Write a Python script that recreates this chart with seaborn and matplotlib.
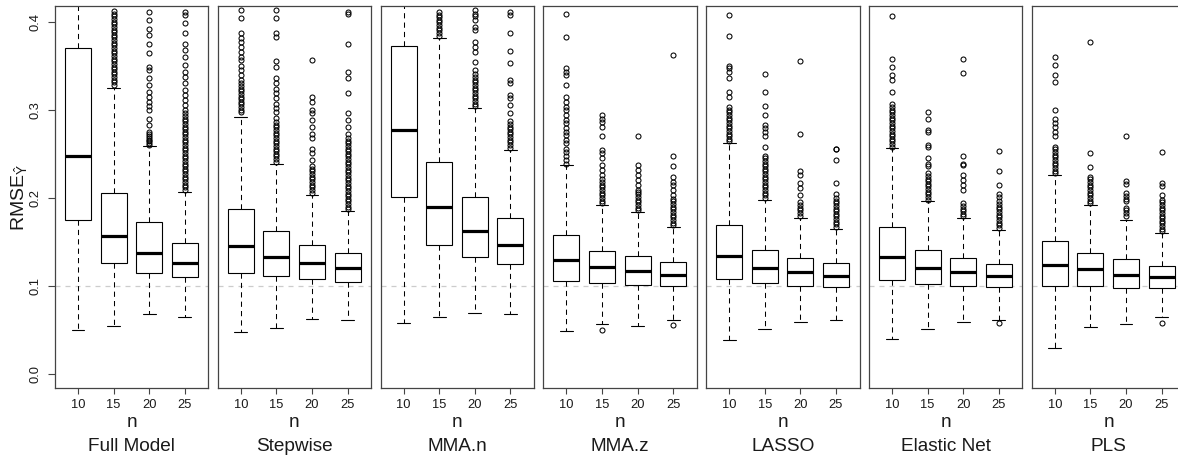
import numpy as np
import pandas as pd
import matplotlib
matplotlib.use("Agg")
import matplotlib.pyplot as plt
from matplotlib.transforms import blended_transform_factory
import seaborn as sns

# ---------------- data ----------------
methods = ["Full Model", "Stepwise", "MMA.n", "MMA.z", "LASSO", "Elastic Net", "PLS"]
n_levels = ["10", "15", "20", "25"]

# per method: values for n = 10, 15, 20, 25
whisker_low = [
    [0.050, 0.055, 0.068, 0.065],
    [0.048, 0.052, 0.0625, 0.061],
    [0.058, 0.065, 0.069, 0.068],
    [0.0495, 0.057, 0.055, 0.0615],
    [0.039, 0.0515, 0.059, 0.0615],
    [0.040, 0.0515, 0.0595, 0.0615],
    [0.030, 0.0535, 0.057, 0.0645],
]
q1 = [
    [0.175, 0.126, 0.1145, 0.110],
    [0.1145, 0.1115, 0.108, 0.1045],
    [0.2015, 0.1465, 0.133, 0.1245],
    [0.1055, 0.104, 0.101, 0.100],
    [0.1075, 0.103, 0.1005, 0.0995],
    [0.107, 0.1025, 0.100, 0.0985],
    [0.1005, 0.100, 0.098, 0.0975],
]
median = [
    [0.2475, 0.157, 0.137, 0.1265],
    [0.1455, 0.1335, 0.1265, 0.120],
    [0.277, 0.190, 0.162, 0.1465],
    [0.1295, 0.122, 0.117, 0.1125],
    [0.1345, 0.120, 0.1155, 0.112],
    [0.1335, 0.120, 0.1155, 0.1115],
    [0.1235, 0.119, 0.113, 0.110],
]
q3 = [
    [0.370, 0.206, 0.1725, 0.149],
    [0.187, 0.163, 0.147, 0.137],
    [0.372, 0.241, 0.201, 0.177],
    [0.1585, 0.1395, 0.1345, 0.1275],
    [0.1695, 0.1415, 0.132, 0.126],
    [0.167, 0.1405, 0.1315, 0.125],
    [0.151, 0.1372, 0.1305, 0.123],
]
whisker_high = [
    [0.55, 0.325, 0.2585, 0.207],
    [0.292, 0.238, 0.203, 0.185],
    [0.55, 0.3815, 0.302, 0.254],
    [0.237, 0.192, 0.184, 0.167],
    [0.262, 0.1975, 0.177, 0.165],
    [0.2565, 0.1965, 0.1775, 0.1635],
    [0.226, 0.192, 0.175, 0.1605],
]
outliers = [
    [  # Full Model
        [],
        [0.328, 0.331, 0.334, 0.337, 0.340, 0.343, 0.346, 0.349, 0.352, 0.355, 0.358, 0.361,
         0.364, 0.367, 0.370, 0.373, 0.376, 0.379, 0.382, 0.385, 0.388, 0.391, 0.394, 0.397,
         0.400, 0.403, 0.406, 0.409, 0.412],
        [0.260, 0.262, 0.264, 0.266, 0.268, 0.270, 0.272, 0.275, 0.283, 0.290, 0.300, 0.304,
         0.309, 0.315, 0.320, 0.328, 0.336, 0.345, 0.348, 0.364, 0.375, 0.385, 0.392, 0.402, 0.411],
        [0.209, 0.212, 0.215, 0.218, 0.221, 0.224, 0.227, 0.230, 0.233, 0.236, 0.239, 0.242,
         0.245, 0.248, 0.251, 0.254, 0.257, 0.260, 0.263, 0.266, 0.269, 0.272, 0.275, 0.278,
         0.281, 0.284, 0.287, 0.290, 0.293, 0.296, 0.300, 0.305, 0.311, 0.317, 0.322, 0.330,
         0.337, 0.343, 0.351, 0.360, 0.368, 0.375, 0.387, 0.398, 0.407, 0.411],
    ],
    [  # Stepwise
        [0.297, 0.300, 0.303, 0.306, 0.309, 0.312, 0.315, 0.318, 0.321, 0.324, 0.327, 0.330,
         0.334, 0.339, 0.345, 0.350, 0.356, 0.360, 0.366, 0.371, 0.377, 0.381, 0.387, 0.404, 0.413],
        [0.241, 0.244, 0.247, 0.250, 0.253, 0.256, 0.259, 0.262, 0.265, 0.268, 0.271, 0.274,
         0.277, 0.280, 0.283, 0.286, 0.291, 0.297, 0.302, 0.307, 0.313, 0.319, 0.324, 0.330,
         0.336, 0.349, 0.355, 0.383, 0.387, 0.404, 0.413],
        [0.206, 0.209, 0.212, 0.215, 0.218, 0.221, 0.224, 0.227, 0.230, 0.233, 0.236, 0.243,
         0.251, 0.256, 0.268, 0.273, 0.281, 0.288, 0.296, 0.300, 0.309, 0.315, 0.356],
        [0.187, 0.190, 0.193, 0.196, 0.199, 0.202, 0.205, 0.208, 0.211, 0.214, 0.217, 0.220,
         0.223, 0.226, 0.229, 0.232, 0.235, 0.238, 0.241, 0.244, 0.247, 0.250, 0.253, 0.256,
         0.259, 0.262, 0.265, 0.268, 0.273, 0.281, 0.288, 0.296, 0.319, 0.336, 0.343, 0.374,
         0.409, 0.411],
    ],
    [  # MMA.n
        [],
        [0.384, 0.387, 0.390, 0.393, 0.396, 0.399, 0.402, 0.405, 0.408, 0.411],
        [0.304, 0.307, 0.310, 0.313, 0.316, 0.319, 0.322, 0.325, 0.328, 0.331, 0.334, 0.337,
         0.340, 0.345, 0.354, 0.366, 0.371, 0.377, 0.390, 0.394, 0.402, 0.406, 0.409, 0.413],
        [0.257, 0.260, 0.263, 0.266, 0.269, 0.272, 0.275, 0.278, 0.281, 0.284, 0.287, 0.296,
         0.305, 0.313, 0.317, 0.330, 0.334, 0.353, 0.367, 0.387, 0.407, 0.411],
    ],
    [  # MMA.z
        [0.239, 0.243, 0.247, 0.252, 0.256, 0.262, 0.266, 0.271, 0.275, 0.279, 0.285, 0.288,
         0.294, 0.300, 0.303, 0.309, 0.315, 0.328, 0.339, 0.343, 0.347, 0.383, 0.409],
        [0.050, 0.194, 0.197, 0.200, 0.203, 0.206, 0.209, 0.212, 0.215, 0.218, 0.221, 0.226,
         0.232, 0.237, 0.245, 0.251, 0.254, 0.270, 0.281, 0.286, 0.290, 0.294],
        [0.186, 0.189, 0.192, 0.195, 0.198, 0.201, 0.204, 0.207, 0.209, 0.215, 0.220, 0.226,
         0.232, 0.237, 0.270],
        [0.0555, 0.169, 0.172, 0.175, 0.178, 0.181, 0.184, 0.187, 0.190, 0.193, 0.196, 0.199,
         0.203, 0.209, 0.215, 0.218, 0.224, 0.236, 0.248, 0.362],
    ],
    [  # LASSO
        [0.264, 0.267, 0.270, 0.273, 0.276, 0.279, 0.282, 0.285, 0.288, 0.291, 0.294, 0.297,
         0.300, 0.303, 0.315, 0.320, 0.336, 0.343, 0.347, 0.350, 0.384, 0.407],
        [0.200, 0.203, 0.206, 0.209, 0.212, 0.215, 0.218, 0.221, 0.224, 0.227, 0.230, 0.233,
         0.236, 0.239, 0.242, 0.245, 0.248, 0.258, 0.270, 0.275, 0.279, 0.283, 0.294, 0.304,
         0.320, 0.341],
        [0.180, 0.183, 0.186, 0.189, 0.192, 0.195, 0.203, 0.211, 0.217, 0.226, 0.230, 0.272, 0.355],
        [0.167, 0.170, 0.173, 0.176, 0.179, 0.182, 0.185, 0.188, 0.191, 0.194, 0.197, 0.200,
         0.205, 0.217, 0.243, 0.255, 0.256],
    ],
    [  # Elastic Net
        [0.258, 0.261, 0.264, 0.267, 0.270, 0.273, 0.276, 0.279, 0.282, 0.285, 0.288, 0.291,
         0.294, 0.297, 0.300, 0.303, 0.306, 0.320, 0.334, 0.339, 0.349, 0.358, 0.406],
        [0.198, 0.201, 0.204, 0.207, 0.210, 0.213, 0.216, 0.219, 0.222, 0.225, 0.228, 0.236,
         0.239, 0.245, 0.258, 0.260, 0.275, 0.277, 0.290, 0.298],
        [0.1795, 0.182, 0.185, 0.188, 0.191, 0.194, 0.209, 0.215, 0.220, 0.226, 0.237, 0.239,
         0.248, 0.342, 0.358],
        [0.058, 0.166, 0.169, 0.172, 0.175, 0.178, 0.181, 0.184, 0.187, 0.190, 0.193, 0.196,
         0.201, 0.205, 0.215, 0.230, 0.253],
    ],
    [  # PLS
        [0.228, 0.231, 0.234, 0.237, 0.240, 0.243, 0.246, 0.249, 0.252, 0.255, 0.258, 0.270,
         0.275, 0.281, 0.285, 0.290, 0.300, 0.332, 0.339, 0.351, 0.360],
        [0.194, 0.197, 0.200, 0.203, 0.206, 0.209, 0.212, 0.215, 0.218, 0.221, 0.224, 0.235,
         0.251, 0.377],
        [0.180, 0.183, 0.186, 0.189, 0.196, 0.199, 0.202, 0.206, 0.216, 0.2195, 0.270],
        [0.0585, 0.162, 0.165, 0.168, 0.171, 0.174, 0.177, 0.180, 0.183, 0.186, 0.189, 0.192,
         0.195, 0.198, 0.203, 0.2135, 0.217, 0.2525],
    ],
]
y_ticks = [0.0, 0.1, 0.2, 0.3, 0.4]
reference_level = 0.1

# ---------------- long table for seaborn ----------------
# Each box is represented by its summary values; the quartile values are
# repeated so that seaborn's own quartile/whisker computation reproduces them.
REP = 400
rows = []
for mi, m in enumerate(methods):
    for ni, n in enumerate(n_levels):
        vals = ([whisker_low[mi][ni]] + [q1[mi][ni]] * REP + [median[mi][ni]] * REP
                + [q3[mi][ni]] * REP + [whisker_high[mi][ni]] + list(outliers[mi][ni]))
        rows.extend((m, n, v) for v in vals)
df = pd.DataFrame(rows, columns=["method", "n", "rmse"])

# ---------------- style ----------------
sns.set_theme(style="white")
plt.rcParams["font.family"] = ["Liberation Sans", "DejaVu Sans"]
plt.rcParams["mathtext.fontset"] = "custom"
plt.rcParams["mathtext.rm"] = "Liberation Sans"
plt.rcParams["mathtext.it"] = "Liberation Sans:italic"
plt.rcParams["mathtext.bf"] = "Liberation Sans:bold"

TXT = "#1a1a1a"
FRAME = "#444444"
W, H = 1178, 459
fig = plt.figure(figsize=(W / 100, H / 100), dpi=100)
fig.patch.set_facecolor("white")

panel_left0, panel_step, panel_w = 55.0, 162.8, 153.4
ax_top_px, ax_bot_px = 5.7, 388.3

for i, m in enumerate(methods):
    left = (panel_left0 + i * panel_step) / W
    ax = fig.add_axes([left, 1 - ax_bot_px / H, panel_w / W, (ax_bot_px - ax_top_px) / H])
    sub = df[df["method"] == m]
    ax.axhline(reference_level, color="#cccccc", lw=0.9, ls=(0, (4, 4)), zorder=0)
    sns.boxplot(
        data=sub, x="n", y="rmse", order=n_levels, ax=ax,
        color="white", linecolor="black", saturation=1, width=0.73, linewidth=0.8, whis=1.5,
        boxprops=dict(facecolor="white", edgecolor="black", linewidth=0.8),
        medianprops=dict(color="black", linewidth=2.3, solid_capstyle="butt"),
        whiskerprops=dict(color="black", linewidth=0.75, linestyle=(0, (5, 4))),
        capprops=dict(color="black", linewidth=0.8),
        flierprops=dict(marker="o", markerfacecolor="none", markeredgecolor="black",
                        markersize=3.6, markeredgewidth=0.75, linestyle="none"),
    )
    ax.set_xlim(-0.646, 3.663)
    ax.set_ylim(-0.0159, 0.418)
    ax.set_facecolor("white")
    for sp in ax.spines.values():
        sp.set_visible(True)
        sp.set_color(FRAME)
        sp.set_linewidth(0.9)
    ax.set_xlabel("")
    ax.set_ylabel("")
    ax.tick_params(axis="x", which="both", bottom=True, direction="out", length=4.5,
                   width=0.8, color=FRAME, labelsize=9.3, labelcolor=TXT, pad=3)
    ax.set_yticks(y_ticks)
    if i == 0:
        ax.set_yticklabels([f"{t:.1f}" for t in y_ticks])
        ax.tick_params(axis="y", which="both", left=True, direction="out", length=5,
                       width=0.8, color=FRAME, labelsize=9.3, labelcolor=TXT, pad=4.5,
                       labelrotation=90)
        for lab in ax.get_yticklabels():
            lab.set_verticalalignment("center")
        ax.set_ylabel("RMSE$_{\\hat{\\mathrm{Y}}}$", fontsize=14, color=TXT)
        ax.yaxis.set_label_coords(-0.235, 0.5)
        ax.yaxis.label.set_verticalalignment("center")
    else:
        ax.tick_params(axis="y", which="both", left=False, labelleft=False)
    tr = blended_transform_factory(ax.transAxes, fig.transFigure)
    ax.text(0.5, 1 - 426.7 / H, "n", transform=tr, ha="center", va="baseline",
            fontsize=13.7, color=TXT)
    ax.text(0.5, 1 - 451.0 / H, m, transform=tr, ha="center", va="baseline",
            fontsize=13.7, color=TXT)

fig.savefig("out.png", dpi=100, facecolor="white")
